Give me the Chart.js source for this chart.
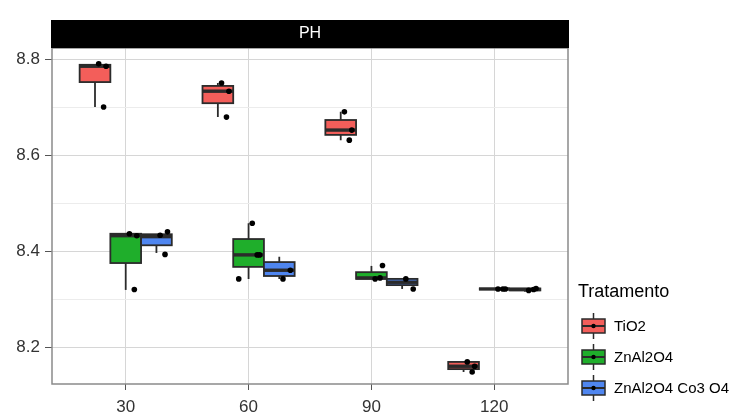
<!DOCTYPE html>
<html>
<head>
<meta charset="utf-8">
<script src="https://cdn.jsdelivr.net/npm/chart.js@4.4.1/dist/chart.umd.min.js"></script>
<style>
html, body { margin: 0; padding: 0; background: #fff; }
#wrap { width: 737px; height: 412px; position: relative; }
</style>
</head>
<body>
<div id="wrap"><canvas id="ph"></canvas></div>
<script>
const doses = ['30', '60', '90', '120'];
const treatments = ['TiO2', 'ZnAl2O4', 'ZnAl2O4 Co3 O4'];
const colors = ['#f35e5a', '#1fae2b', '#4f86f0'];
const yTicks = [8.2, 8.3, 8.4, 8.5, 8.6, 8.7, 8.8];   // odd steps are minor grid lines
const yLabels = ['8.2', '', '8.4', '', '8.6', '', '8.8'];

// box stats per dose: [min, q1, median, q3, max]
const tio2Box = [
    [8.700, 8.752, 8.785, 8.788, 8.788],
    [8.679, 8.708, 8.733, 8.744, 8.750],
    [8.631, 8.642, 8.652, 8.673, 8.690],
    [8.148, 8.154, 8.160, 8.169, 8.170]
];
const znBox = [
    [8.319, 8.375, 8.432, 8.436, 8.436],
    [8.342, 8.367, 8.392, 8.425, 8.458],
    [8.342, 8.342, 8.344, 8.356, 8.369],
    [8.321, 8.321, 8.321, 8.321, 8.321]
];
const znCoBox = [
    [8.396, 8.412, 8.430, 8.435, 8.435],
    [8.342, 8.348, 8.360, 8.377, 8.388],
    [8.321, 8.329, 8.335, 8.342, 8.342],
    [8.315, 8.318, 8.320, 8.322, 8.322]
];

// observations per dose
const tio2Points = [
    [8.790, 8.785, 8.700],
    [8.750, 8.733, 8.679],
    [8.690, 8.652, 8.631],
    [8.169, 8.160, 8.148]
];
const znPoints = [
    [8.436, 8.432, 8.320],
    [8.458, 8.392, 8.392, 8.342],
    [8.342, 8.370, 8.344],
    [8.321, 8.321, 8.321]
];
const znCoPoints = [
    [8.433, 8.440, 8.393],
    [8.342, 8.360],
    [8.342, 8.321],
    [8.318, 8.322, 8.320]
];

const boxes = [tio2Box, znBox, znCoBox];
const points = [tio2Points, znPoints, znCoPoints];

const DODGE = [-0.25, 0, 0.25];
const BOX_W = 0.25;
const JITTER = [0.03, 0.09, 0.07, -0.08];
const INK = '#2b2b2b';

const boxPlugin = {
    id: 'boxes',
    beforeDatasetsDraw(chart) {
        const { ctx, scales: { x, y } } = chart;
        ctx.save();
        boxes.forEach((set, t) => {
            set.forEach((b, i) => {
                const cx = i + 1 + DODGE[t];
                const left = x.getPixelForValue(cx - BOX_W / 2);
                const right = x.getPixelForValue(cx + BOX_W / 2);
                const mid = x.getPixelForValue(cx);
                const [mn, q1, md, q3, mx] = b.map(v => y.getPixelForValue(v));
                ctx.strokeStyle = INK;
                ctx.lineWidth = 1.8;
                ctx.beginPath();
                ctx.moveTo(mid, mx); ctx.lineTo(mid, q3);
                ctx.moveTo(mid, q1); ctx.lineTo(mid, mn);
                ctx.stroke();
                ctx.fillStyle = colors[t];
                ctx.fillRect(left, q3, right - left, q1 - q3);
                ctx.strokeRect(left, q3, right - left, q1 - q3);
                ctx.lineWidth = 3.4;
                ctx.beginPath();
                ctx.moveTo(left, md); ctx.lineTo(right, md);
                ctx.stroke();
            });
        });
        ctx.restore();
    },
    afterDraw(chart) {
        const { ctx, chartArea: a } = chart;
        ctx.save();
        // panel border
        ctx.strokeStyle = '#8a8a8a';
        ctx.lineWidth = 1.5;
        ctx.strokeRect(a.left, a.top, a.right - a.left, a.bottom - a.top);
        // facet strip
        ctx.fillStyle = '#000';
        ctx.fillRect(a.left - 1, 20, a.right - a.left + 2, a.top - 20);
        ctx.fillStyle = '#fff';
        ctx.font = '16px "Liberation Sans", Arial, sans-serif';
        ctx.textAlign = 'center';
        ctx.textBaseline = 'middle';
        ctx.fillText('PH', (a.left + a.right) / 2, 34);

        // legend
        ctx.textAlign = 'left';
        ctx.fillStyle = '#000';
        ctx.font = '18px "Liberation Sans", Arial, sans-serif';
        ctx.fillText('Tratamento', 578, 292);
        ctx.font = '15px "Liberation Sans", Arial, sans-serif';
        treatments.forEach((name, i) => {
            const cy = 326 + i * 31;
            const l = 582, r = 605, m = (l + r) / 2;
            ctx.strokeStyle = INK;
            ctx.lineWidth = 1.5;
            ctx.beginPath();
            ctx.moveTo(m, cy - 13); ctx.lineTo(m, cy + 13);
            ctx.stroke();
            ctx.fillStyle = colors[i];
            ctx.fillRect(l, cy - 7, r - l, 14);
            ctx.strokeRect(l, cy - 7, r - l, 14);
            ctx.lineWidth = 2;
            ctx.beginPath();
            ctx.moveTo(l, cy); ctx.lineTo(r, cy);
            ctx.stroke();
            ctx.fillStyle = '#000';
            ctx.beginPath();
            ctx.arc(m, cy, 2.2, 0, Math.PI * 2);
            ctx.fill();
            ctx.fillText(name, 614, cy + 1);
        });
        ctx.restore();
    }
};

const datasets = treatments.map((name, t) => ({
    label: name,
    data: points[t].flatMap((vals, i) =>
        vals.map((v, k) => ({ x: i + 1 + DODGE[t] + JITTER[k % JITTER.length], y: v }))),
    backgroundColor: '#000',
    borderWidth: 0,
    pointRadius: 2.8
}));

const tickFont = { family: '"Liberation Sans", Arial, sans-serif', size: 17 };
const isMajor = (c) => yLabels[yTicks.indexOf(c.tick.value)] !== '';

new Chart(document.getElementById('ph'), {
    type: 'scatter',
    data: { datasets: datasets },
    options: {
        responsive: true,
        maintainAspectRatio: false,
        animation: false,
        layout: { padding: { top: 48, right: 169, left: 0, bottom: 0 } },
        plugins: {
            legend: { display: false },
            tooltip: { enabled: false }
        },
        scales: {
            x: {
                type: 'linear',
                bounds: 'data',
                min: 0.4,
                max: 4.6,
                afterBuildTicks: (scale) => { scale.ticks = doses.map((d, i) => ({ value: i + 1 })); },
                afterFit: (scale) => { scale.height = 28; },
                ticks: {
                    autoSkip: false,
                    maxRotation: 0,
                    padding: 7,
                    color: '#333',
                    font: tickFont,
                    callback: (v) => doses[v - 1] ?? ''
                },
                grid: {
                    color: '#d6d6d6',
                    tickLength: 6,
                    tickColor: '#555'
                },
                border: { display: false }
            },
            y: {
                bounds: 'data',
                min: 8.123,
                max: 8.823,
                afterBuildTicks: (scale) => { scale.ticks = yTicks.map(v => ({ value: v })); },
                afterFit: (scale) => { scale.width = 52; },
                ticks: {
                    autoSkip: false,
                    padding: 5,
                    color: '#333',
                    font: tickFont,
                    callback: (v) => yLabels[yTicks.indexOf(v)] ?? ''
                },
                grid: {
                    color: (c) => isMajor(c) ? '#d6d6d6' : '#ececec',
                    tickLength: 7,
                    tickColor: (c) => isMajor(c) ? '#555' : 'rgba(0,0,0,0)'
                },
                border: { display: false }
            }
        }
    },
    plugins: [boxPlugin]
});
</script>
</body>
</html>
